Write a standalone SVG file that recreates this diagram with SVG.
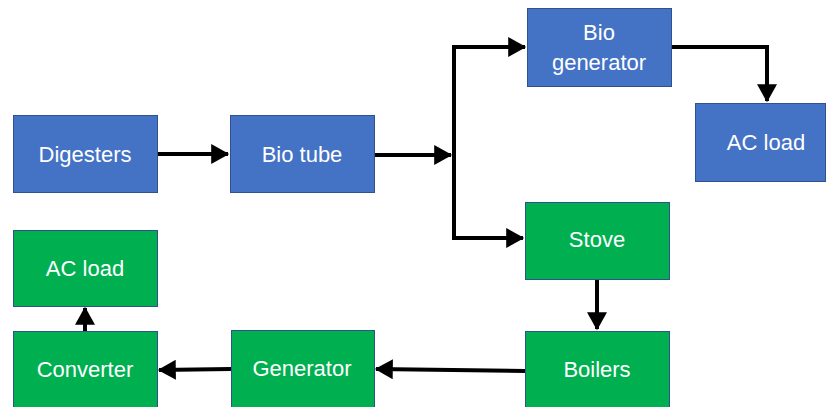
<svg xmlns="http://www.w3.org/2000/svg" width="826" height="407" viewBox="0 0 826 407">
<defs>
<marker id="ah" markerWidth="5" markerHeight="5" refX="4.2" refY="2.5" orient="auto" markerUnits="strokeWidth">
<path d="M0,0 L4.5,2.5 L0,5 Z" fill="#000"/>
</marker>
</defs>
<style>
.blue{fill:#4472C4;stroke:#2F528F;stroke-width:1}
.green{fill:#00B050;stroke:#2F528F;stroke-width:1}
text{font-family:"Liberation Sans",Arial,sans-serif;font-size:22px;fill:#fff;text-anchor:middle}
.c{fill:none;stroke:#000;stroke-width:4;stroke-linejoin:miter}
</style>
<rect width="826" height="407" fill="#fff"/>
<g id="connectors">
<path class="c" d="M157,154 L228,154" marker-end="url(#ah)"/>
<path class="c" d="M374,155 L451,155" marker-end="url(#ah)"/>
<path class="c" d="M454,155 L454,47 L525,47" marker-end="url(#ah)"/>
<path class="c" d="M454,155 L454,238 L523,238" marker-end="url(#ah)"/>
<path class="c" d="M671,47 L767,47 L767,101" marker-end="url(#ah)"/>
<path class="c" d="M597,279 L597,329" marker-end="url(#ah)"/>
<path class="c" d="M525,371 L376,369" marker-end="url(#ah)"/>
<path class="c" d="M231,369 L159,370" marker-end="url(#ah)"/>
<path class="c" d="M85,331 L85,308" marker-end="url(#ah)"/>
</g>
<g id="digesters"><rect class="blue" x="13.5" y="115.5" width="144" height="77"/><text x="85" y="162">Digesters</text></g>
<g id="biotube"><rect class="blue" x="230.5" y="115.5" width="144" height="77"/><text x="302" y="162">Bio tube</text></g>
<g id="biogenerator"><rect class="blue" x="527.5" y="8.5" width="144" height="78"/><text x="599" y="40">Bio</text><text x="599" y="70">generator</text></g>
<g id="acload1"><rect class="blue" x="695.5" y="103.5" width="130" height="78"/><text x="766" y="150">AC load</text></g>
<g id="stove"><rect class="green" x="525.5" y="202.5" width="144" height="77"/><text x="597" y="247">Stove</text></g>
<g id="boilers"><rect class="green" x="525.5" y="331.5" width="144" height="80"/><text x="597" y="377">Boilers</text></g>
<g id="generator"><rect class="green" x="231.5" y="330.5" width="143" height="80"/><text x="302" y="376">Generator</text></g>
<g id="converter"><rect class="green" x="13.5" y="331.5" width="144" height="80"/><text x="85" y="377">Converter</text></g>
<g id="acload2"><rect class="green" x="13.5" y="230.5" width="144" height="76"/><text x="85" y="276">AC load</text></g>
</svg>
